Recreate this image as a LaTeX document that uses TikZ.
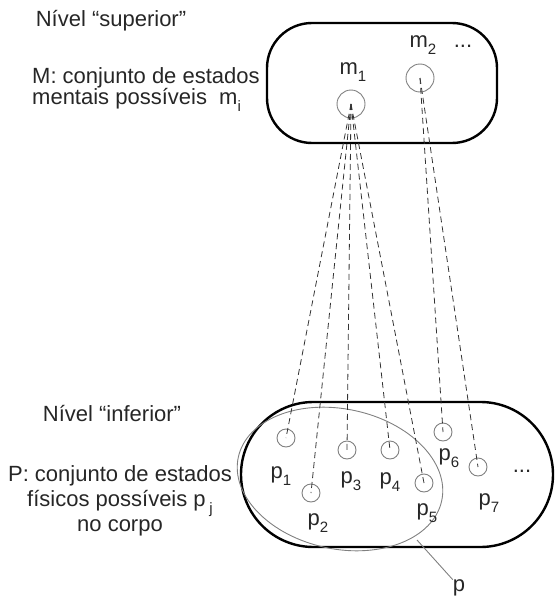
\documentclass[tikz,border=0pt]{standalone}
\usepackage{fontspec}
\setmainfont{Liberation Sans}
\newcommand\subx[1]{\raisebox{-0.3em}{\fontsize{15}{15}\selectfont #1}}
\begin{document}
\begin{tikzpicture}[x=1pt,y=-1pt,
  txt/.style={font=\fontsize{22}{25}\selectfont, inner sep=0pt, text=black!85},
  bold/.style={line width=2.4pt, black},
  mstate/.style={circle, draw=gray, line width=0.9pt, minimum size=28pt, inner sep=0pt},
  pstate/.style={circle, draw=gray, line width=0.9pt, minimum size=18pt, inner sep=0pt},
  link/.style={dash pattern=on 6pt off 4pt, line width=0.8pt, black!80},
  setline/.style={gray, line width=0.9pt}]
\useasboundingbox (0,0) rectangle (555,597);

% left texts
\node[txt] (tsup) at (111,21) {Nível “superior”};
\node[txt, anchor=west] (tM1) at (32,78) {M: conjunto de estados};
\node[txt, anchor=west] (tM2) at (32,100) {mentais possíveis\ \ m\subx{i}};
\node[txt] (tinf) at (112,414) {Nível “inferior”};
\node[txt, align=center] (tP) at (120,501) {P: conjunto de estados\\físicos possíveis p\,\subx{j}\\no corpo};

% sets
\draw[bold, rounded corners=45pt] (267,23) rectangle (497,143);
\draw[bold, rounded corners=72.5pt] (241,402) rectangle (553,547);
\draw[setline, rotate around={-12:(340,479)}] (340,479) ellipse [x radius=104pt, y radius=70pt];

% mental states
\node[mstate] (m1) at (351,104) {};
\node[mstate] (m2) at (420,78) {};
\node[txt] (lm1) at (353,72) {m\subx{1}};
\node[txt] (lm2) at (423,45) {m\subx{2}};
\node[txt] (ldots1) at (463,46) {...};

% physical states
\node[pstate] (p1) at (286,438) {};
\node[pstate] (p2) at (311,493) {};
\node[pstate] (p3) at (347,450) {};
\node[pstate] (p4) at (390,450) {};
\node[pstate] (p5) at (424,483) {};
\node[pstate] (p6) at (443,432) {};
\node[pstate] (p7) at (478,467) {};
\node[txt] (lp1) at (281,476) {p\subx{1}};
\node[txt] (lp2) at (318,523) {p\subx{2}};
\node[txt] (lp3) at (351,481) {p\subx{3}};
\node[txt] (lp4) at (390,482) {p\subx{4}};
\node[txt] (lp5) at (427,513) {p\subx{5}};
\node[txt] (lp6) at (449,458) {p\subx{6}};
\node[txt] (lp7) at (489,503) {p\subx{7}};
\node[txt] (ldots2) at (522,471) {...};

% links
\foreach \p in {p1,p2,p3,p4,p5} \draw[link] (m1.center) -- (\p.center);
\foreach \p in {p6,p7} \draw[link] (m2.center) -- (\p.center);

% subset label
\coordinate (pe) at (417,540);
\node[txt] (lp) at (459,588) {p};
\draw[setline] (pe) -- (lp.north west);
\end{tikzpicture}
\end{document}
